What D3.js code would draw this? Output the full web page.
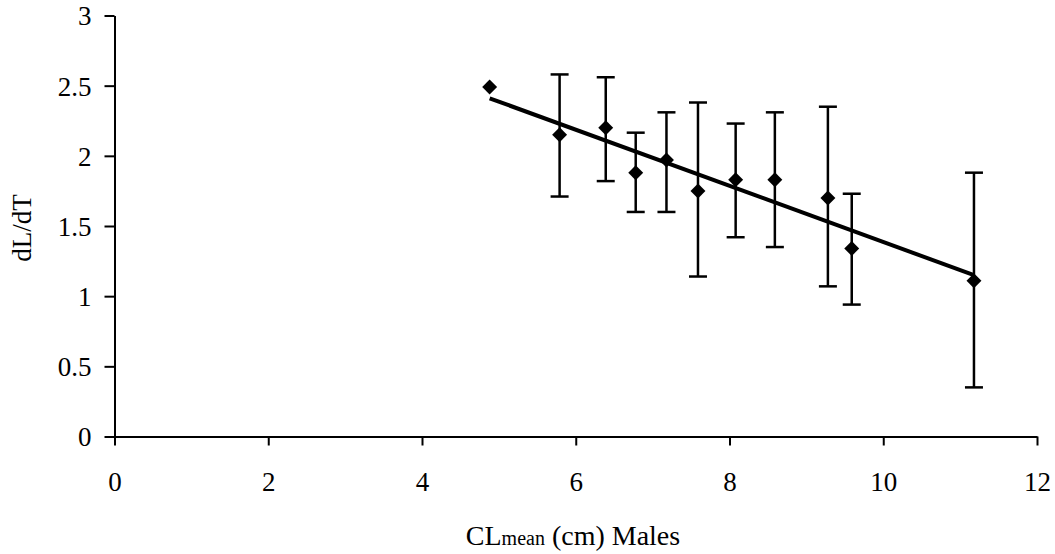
<!DOCTYPE html>
<html>
<head>
<meta charset="utf-8">
<script src="https://cdn.jsdelivr.net/npm/d3@7"></script>
<style>
  html, body { margin: 0; padding: 0; background: #fff; }
  svg { display: block; }
  svg text { font-family: "Liberation Serif", "Times New Roman", serif !important; fill: #000; }
</style>
</head>
<body>
<svg id="chart" width="1055" height="554"></svg>
<script>
// ---- data ----
const clMean = [4.88, 5.79, 6.39, 6.78, 7.18, 7.59, 8.08, 8.59, 9.28, 9.59, 11.18];
const dLdT   = [2.49, 2.15, 2.20, 1.88, 1.97, 1.75, 1.83, 1.83, 1.70, 1.34, 1.11];
const errHigh = [null, 2.58, 2.56, 2.165, 2.31, 2.38, 2.23, 2.31, 2.35, 1.73, 1.88];
const errLow  = [null, 1.71, 1.82, 1.60, 1.60, 1.14, 1.42, 1.35, 1.07, 0.94, 0.35];
const trendSlope = -0.2;
const trendIntercept = 3.386;
const xTicks = [0, 2, 4, 6, 8, 10, 12];
const yTicks = [0, 0.5, 1, 1.5, 2, 2.5, 3];
const xTitleMain = "CL";
const xTitleSub = "mean";
const xTitleRest = " (cm) Males";
const yTitle = "dL/dT";

const FONT = '"Liberation Serif", "Times New Roman", serif';
const svg = d3.select("#chart");
const x = d3.scaleLinear().domain([0, 12]).range([114.5, 1037]);
const y = d3.scaleLinear().domain([0, 3]).range([436.5, 15.5]);

// axes
const xAxis = d3.axisBottom(x).tickValues(xTicks).tickSize(9).tickSizeOuter(0).tickPadding(26)
  .tickFormat(d3.format("d"));
const yAxis = d3.axisLeft(y).tickValues(yTicks).tickSize(10).tickSizeOuter(0).tickPadding(13)
  .tickFormat(d => String(d));

const gx = svg.append("g").attr("transform", `translate(0,${y(0)})`).call(xAxis);
const gy = svg.append("g").attr("transform", `translate(${x(0)},0)`).call(yAxis);
[gx, gy].forEach(g => {
  g.attr("font-family", FONT).attr("font-size", 27);
  g.selectAll("path, line").attr("stroke", "#000").attr("stroke-width", 2);
  g.selectAll("text").attr("fill", "#000");
});
gy.selectAll("text").attr("dy", "0.35em");

// trend line
const xmin = d3.min(clMean), xmax = d3.max(clMean);
svg.append("line")
  .attr("x1", x(xmin)).attr("y1", y(trendSlope * xmin + trendIntercept))
  .attr("x2", x(xmax)).attr("y2", y(trendSlope * xmax + trendIntercept))
  .attr("stroke", "#000").attr("stroke-width", 4);

// error bars
const pts = clMean.map((v, i) => ({x: v, y: dLdT[i], hi: errHigh[i], lo: errLow[i]}));
const eb = svg.append("g").attr("stroke", "#000").attr("stroke-width", 2.5);
pts.filter(d => d.hi != null).forEach(d => {
  eb.append("line").attr("x1", x(d.x)).attr("x2", x(d.x)).attr("y1", y(d.hi)).attr("y2", y(d.lo));
  eb.append("line").attr("x1", x(d.x) - 9).attr("x2", x(d.x) + 9).attr("y1", y(d.hi)).attr("y2", y(d.hi));
  eb.append("line").attr("x1", x(d.x) - 9).attr("x2", x(d.x) + 9).attr("y1", y(d.lo)).attr("y2", y(d.lo));
});

// diamond markers
svg.append("g").selectAll("path").data(pts).join("path")
  .attr("d", d3.symbol().type(d3.symbolSquare).size(112))
  .attr("transform", d => `translate(${x(d.x)},${y(d.y)}) rotate(45)`)
  .attr("fill", "#000");

// axis titles
const xt = svg.append("text").attr("x", 573).attr("y", 545).attr("text-anchor", "middle")
  .attr("font-family", FONT).attr("font-size", 28);
xt.append("tspan").text(xTitleMain);
xt.append("tspan").attr("font-size", 20).text(xTitleSub);
xt.append("tspan").text(xTitleRest);

svg.append("text").attr("transform", "translate(31,228) rotate(-90)")
  .attr("font-family", FONT).attr("text-anchor", "middle").attr("font-size", 27).text(yTitle);
</script>
</body>
</html>
